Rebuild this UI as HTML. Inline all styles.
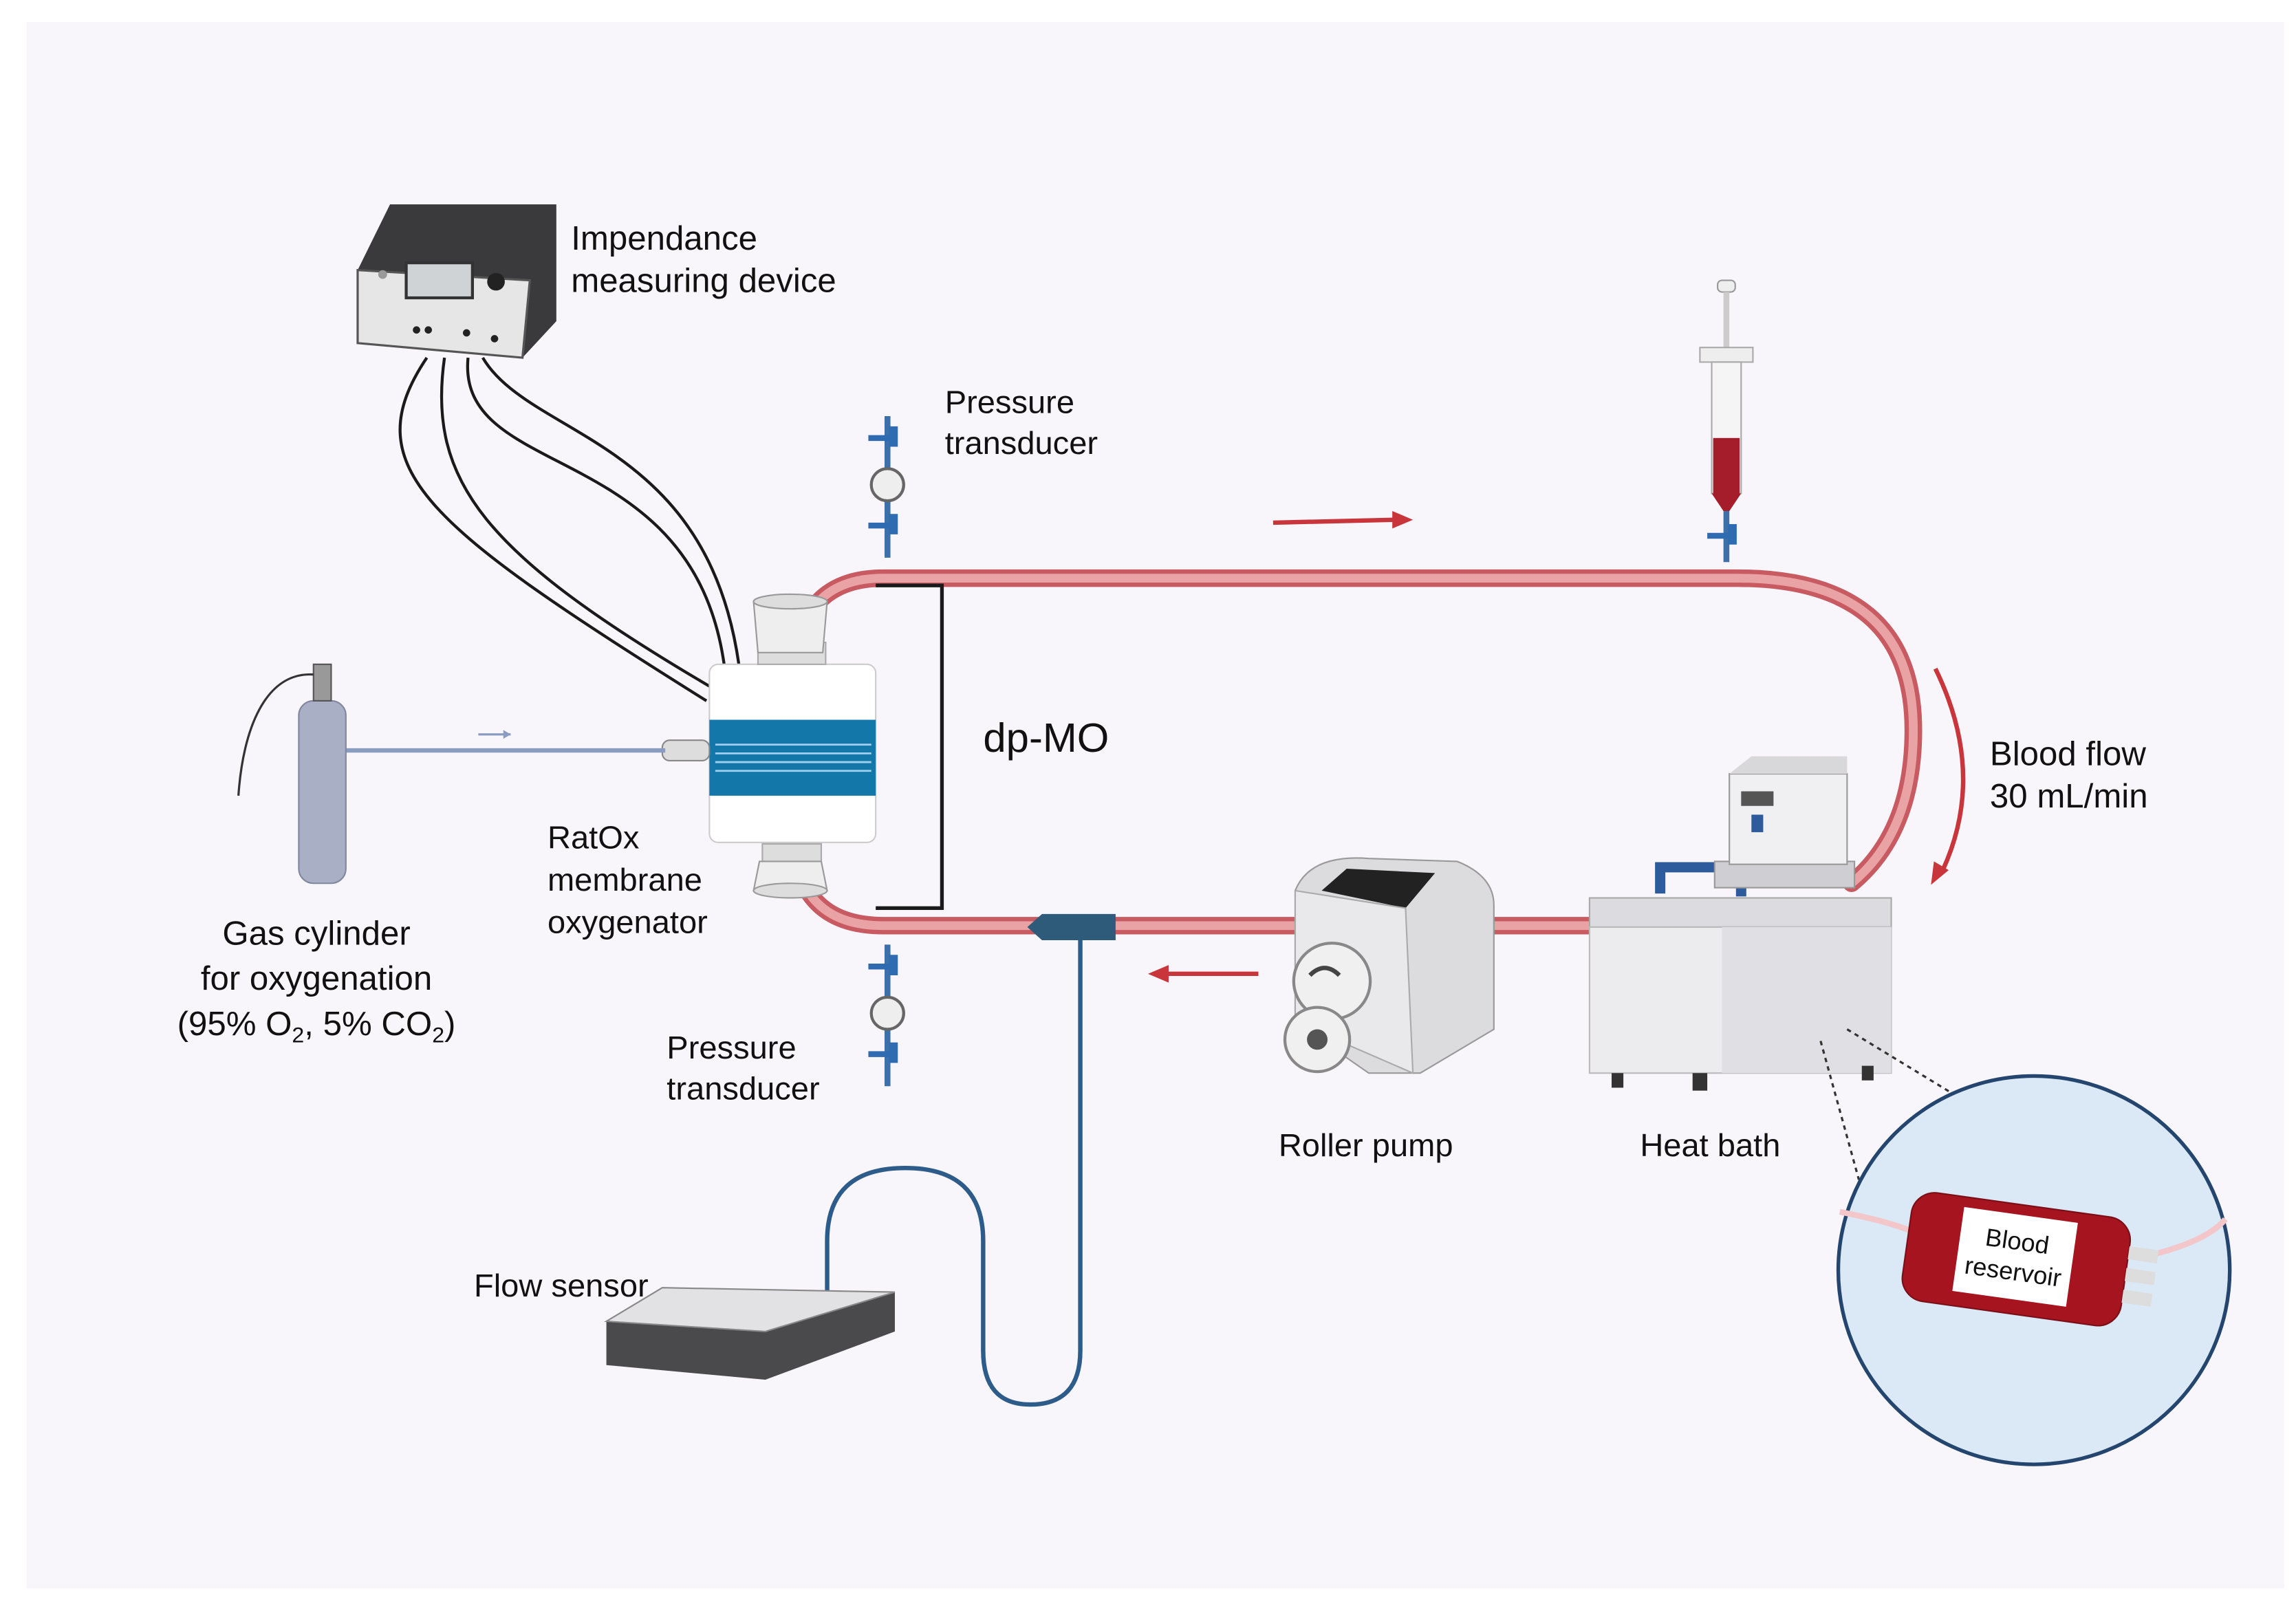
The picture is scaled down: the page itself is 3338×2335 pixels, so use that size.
<!DOCTYPE html>
<html><head><style>
html,body{margin:0;padding:0;background:#fff;}
svg{display:block;}
text{font-family:"Liberation Sans",sans-serif;fill:#111;}
</style></head><body>
<svg width="3338" height="2335" viewBox="0 0 1560 1100" preserveAspectRatio="none" xmlns="http://www.w3.org/2000/svg">
<rect x="0" y="0" width="1560" height="1100" fill="#fff"/>
<rect x="18" y="15" width="1534" height="1073" fill="#f8f6fb"/>

<!-- wires -->
<g fill="none" stroke="#1a1a1a" stroke-width="2">
<path d="M290,245 C240,320 290,360 480,480"/>
<path d="M302,245 C290,330 330,380 482,470"/>
<path d="M318,245 C310,330 470,300 492,455"/>
<path d="M328,245 C360,300 480,300 502,455"/>
</g>
<!-- device -->
<polygon points="243,185 265,140 378,140 378,220 355,245" fill="#3a3a3c"/>
<polygon points="243,185 360,192 355,245 243,235" fill="#e6e6e6" stroke="#555" stroke-width="1.5"/>
<rect x="276" y="180" width="45" height="24" fill="#cfd3d6" stroke="#333" stroke-width="2"/>
<circle cx="337" cy="193" r="6" fill="#222"/>
<circle cx="260" cy="188" r="3" fill="#999"/>
<circle cx="283" cy="226" r="2.5" fill="#222"/><circle cx="291" cy="226" r="2.5" fill="#222"/>
<circle cx="317" cy="228" r="2.5" fill="#222"/><circle cx="336" cy="232" r="2.5" fill="#222"/>
<text x="388" y="171" font-size="23">Impendance</text>
<text x="388" y="200" font-size="23">measuring device</text>

<!-- tube -->
<g fill="none" stroke-linecap="round">
<path d="M550,420 Q565,396 600,396 L1180,396 Q1300,396 1300,500 Q1300,570 1258,605" stroke="#c85a62" stroke-width="12"/>
<path d="M550,420 Q565,396 600,396 L1180,396 Q1300,396 1300,500 Q1300,570 1258,605" stroke="#eaa3a5" stroke-width="6"/>
<path d="M550,612 Q565,634 600,634 L1085,634" stroke="#c85a62" stroke-width="12"/>
<path d="M550,612 Q565,634 600,634 L1085,634" stroke="#eaa3a5" stroke-width="6"/>
</g>

<!-- oxygenator -->
<rect x="482" y="455" width="113" height="122" rx="6" fill="#fff" stroke="#ccc"/>
<rect x="482" y="493" width="113" height="52" fill="#1477aa"/>
<g stroke="#9fd0ee" stroke-width="1.3"><line x1="486" y1="510" x2="592" y2="510"/><line x1="486" y1="516" x2="592" y2="516"/><line x1="486" y1="522" x2="592" y2="522"/><line x1="486" y1="528" x2="592" y2="528"/></g>
<rect x="515" y="440" width="46" height="15" fill="#ddd" stroke="#aaa"/>
<path d="M512,412 h50 l-3,35 h-44 z" fill="#eee" stroke="#999"/>
<ellipse cx="537" cy="412" rx="25" ry="5" fill="#ddd" stroke="#999"/>
<rect x="518" y="578" width="40" height="12" fill="#ddd" stroke="#aaa"/>
<path d="M516,590 h42 l4,20 h-50 z" fill="#eee" stroke="#999"/>
<ellipse cx="537" cy="610" rx="25" ry="5" fill="#ddd" stroke="#999"/>
<rect x="450" y="507" width="32" height="14" rx="5" fill="#ddd" stroke="#888"/>
<path d="M595,401 H640 V622 H595" fill="none" stroke="#1a1a1a" stroke-width="2.5"/>
<text x="668" y="515" font-size="28">dp-MO</text>
<text x="372" y="581" font-size="22">RatOx</text>
<text x="372" y="610" font-size="22">membrane</text>
<text x="372" y="639" font-size="22">oxygenator</text>

<!-- gas cylinder -->
<line x1="235" y1="514" x2="452" y2="514" stroke="#8a9cc0" stroke-width="3"/>
<line x1="325" y1="503" x2="347" y2="503" stroke="#8a9cc0" stroke-width="1.5"/>
<path d="M347,503 l-5,-3 v6z" fill="#8a9cc0"/>
<rect x="203" y="480" width="32" height="125" rx="10" fill="#a9afc4" stroke="#8088a0"/>
<rect x="213" y="455" width="12" height="25" fill="#999" stroke="#555"/>
<path d="M213,462 C180,460 165,500 162,545" fill="none" stroke="#333" stroke-width="1.5"/>
<text x="215" y="647" font-size="23" text-anchor="middle">Gas cylinder</text>
<text x="215" y="678" font-size="23" text-anchor="middle">for oxygenation</text>
<text x="215" y="709" font-size="23" text-anchor="middle">(95% O<tspan font-size="15" dy="5">2</tspan><tspan dy="-5">, 5% CO</tspan><tspan font-size="15" dy="5">2</tspan><tspan dy="-5">)</tspan></text>

<!-- pressure transducers -->
<g id="pt">
<line x1="603" y1="285" x2="603" y2="382" stroke="#3d6fa8" stroke-width="4"/>
<path d="M590,298 h14 v-6 h6 v14 h-6 v-4 h-14z" fill="#2f6bb0"/>
<circle cx="603" cy="332" r="11" fill="#eee" stroke="#666" stroke-width="2"/>
<path d="M590,358 h14 v-6 h6 v14 h-6 v-4 h-14z" fill="#2f6bb0"/>
</g>
<use href="#pt" transform="translate(0,362)"/>
<text x="642" y="283" font-size="22">Pressure</text>
<text x="642" y="311" font-size="22">transducer</text>
<text x="453" y="725" font-size="22">Pressure</text>
<text x="453" y="753" font-size="22">transducer</text>

<!-- syringe -->
<rect x="1167" y="192" width="12" height="8" rx="3" fill="#eee" stroke="#999"/>
<line x1="1173" y1="200" x2="1173" y2="240" stroke="#ccc" stroke-width="4"/>
<rect x="1155" y="238" width="36" height="10" fill="#eee" stroke="#aaa"/>
<rect x="1163" y="248" width="20" height="90" fill="#f5f5f5" stroke="#aaa"/>
<rect x="1164" y="300" width="18" height="38" fill="#a51c2a"/>
<path d="M1163,338 h20 l-8,12 h-4z" fill="#a51c2a"/>
<line x1="1173" y1="350" x2="1173" y2="385" stroke="#3d6fa8" stroke-width="4"/>
<path d="M1160,365 h14 v-6 h6 v14 h-6 v-4 h-14z" fill="#2f6bb0"/>

<!-- arrows -->
<line x1="865" y1="358" x2="948" y2="356" stroke="#c8353a" stroke-width="3"/>
<path d="M960,356 l-14,-6 v12z" fill="#c8353a"/>
<line x1="855" y1="667" x2="792" y2="667" stroke="#c8353a" stroke-width="3"/>
<path d="M780,667 l14,-6 v12z" fill="#c8353a"/>
<path d="M1315,458 Q1350,530 1320,596" fill="none" stroke="#c8353a" stroke-width="3"/>
<path d="M1312,606 l2,-16 10,6z" fill="#c8353a"/>
<text x="1352" y="524" font-size="23">Blood flow</text>
<text x="1352" y="553" font-size="23">30 mL/min</text>

<!-- heat bath -->
<rect x="1080" y="615" width="205" height="20" fill="#dcdce0" stroke="#aaa"/>
<rect x="1080" y="635" width="205" height="100" fill="#ececef" stroke="#bbb"/>
<rect x="1170" y="635" width="115" height="100" fill="#e0e0e4"/>
<rect x="1095" y="735" width="8" height="10" fill="#333"/><rect x="1150" y="735" width="10" height="12" fill="#333"/><rect x="1265" y="730" width="8" height="10" fill="#333"/>
<path d="M1128,612 v-18 h55 v20" fill="none" stroke="#2d5b9c" stroke-width="7"/>
<rect x="1165" y="590" width="95" height="18" fill="#cfcfd3" stroke="#999"/>
<rect x="1175" y="530" width="80" height="62" fill="#f0f0f2" stroke="#999"/>
<polygon points="1175,530 1190,518 1255,518 1255,530" fill="#d8d8db"/>
<rect x="1183" y="542" width="22" height="10" fill="#555"/>
<rect x="1190" y="558" width="8" height="12" fill="#2d5b9c"/>
<text x="1162" y="792" font-size="22" text-anchor="middle">Heat bath</text>

<!-- pump -->
<path d="M880,610 Q890,585 930,588 L990,590 Q1015,600 1015,620 L1015,705 L965,735 L930,735 L880,700 Z" fill="#dcdcdf" stroke="#999"/>
<polygon points="898,610 915,595 975,598 955,622" fill="#222"/>
<path d="M880,610 L955,622 L960,735 L880,700Z" fill="#e9e9ec" stroke="#aaa"/>
<circle cx="905" cy="672" r="26" fill="#f0f0f0" stroke="#888" stroke-width="2"/>
<circle cx="895" cy="712" r="22" fill="#f0f0f0" stroke="#888" stroke-width="2"/>
<circle cx="895" cy="712" r="7" fill="#555"/>
<path d="M890,668 q10,-10 20,0" fill="none" stroke="#444" stroke-width="3"/>
<text x="928" y="792" font-size="22" text-anchor="middle">Roller pump</text>

<!-- connector & flow cable -->
<path d="M708,626 h50 v18 h-50 l-10,-9z" fill="#2e5b7a"/>
<path d="M734,644 V925 Q734,962 700,962 Q668,962 668,925 V850 Q668,800 615,800 Q562,800 562,850 V888" fill="none" stroke="#2d5b8a" stroke-width="3"/>
<polygon points="412,905 450,882 608,885 608,912 520,945 412,935" fill="#4a4a4c"/>
<polygon points="412,905 450,882 608,885 520,912" fill="#e2e2e4" stroke="#888"/>
<text x="322" y="888" font-size="22">Flow sensor</text>

<!-- reservoir -->
<line x1="1237" y1="713" x2="1263" y2="808" stroke="#333" stroke-width="1.5" stroke-dasharray="3,3"/>
<line x1="1255" y1="705" x2="1325" y2="748" stroke="#333" stroke-width="1.5" stroke-dasharray="3,3"/>
<circle cx="1382" cy="870" r="133" fill="#dbe8f5" stroke="#24466e" stroke-width="2.5"/>
<path d="M1250,830 Q1300,840 1310,850" fill="none" stroke="#f3c6c9" stroke-width="4"/>
<path d="M1460,860 Q1500,850 1512,835" fill="none" stroke="#f3c6c9" stroke-width="4"/>
<g transform="rotate(8 1370 862)">
<rect x="1295" y="825" width="150" height="75" rx="16" fill="#a6141f" stroke="#7a0f18"/>
<rect x="1445" y="843" width="20" height="9" fill="#ddd"/><rect x="1445" y="858" width="20" height="9" fill="#ddd"/><rect x="1445" y="873" width="20" height="9" fill="#ddd"/>
<rect x="1330" y="832" width="78" height="58" fill="#fff"/>
<text x="1369" y="856" font-size="17" text-anchor="middle">Blood</text>
<text x="1369" y="877" font-size="17" text-anchor="middle">reservoir</text>
</g>
</svg>
</body></html>
